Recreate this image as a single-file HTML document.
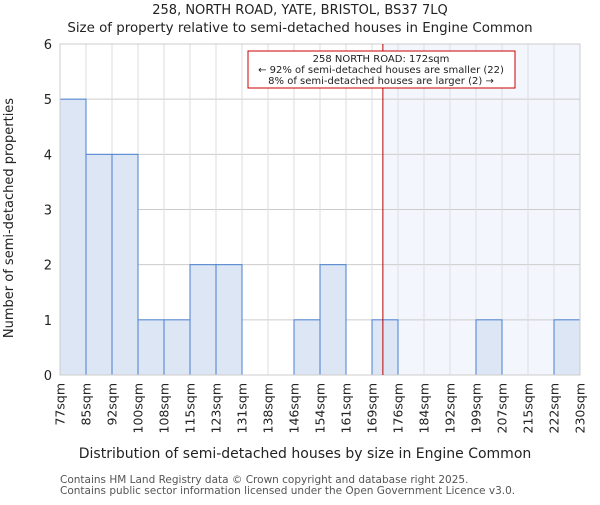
<!DOCTYPE html>
<html><head><meta charset="utf-8"><style>
body{margin:0;background:#fff}
svg text{font-family:"DejaVu Sans","Liberation Sans",sans-serif;fill:#222}
</style></head><body>
<svg id="c" width="600" height="500" xmlns="http://www.w3.org/2000/svg">
<text x="300" y="14" text-anchor="middle" font-size="13">258, NORTH ROAD, YATE, BRISTOL, BS37 7LQ</text>
<text x="300" y="32" text-anchor="middle" font-size="13.4">Size of property relative to semi-detached houses in Engine Common</text>
<g id="plot"></g>
<text x="305" y="458" text-anchor="middle" font-size="14">Distribution of semi-detached houses by size in Engine Common</text>
<text transform="translate(13,218) rotate(-90)" text-anchor="middle" font-size="13">Number of semi-detached properties</text>
<text x="60" y="483" font-size="10.5" style="fill:#555">Contains HM Land Registry data © Crown copyright and database right 2025.</text>
<text x="60" y="494" font-size="10.5" style="fill:#555">Contains public sector information licensed under the Open Government Licence v3.0.</text>
</svg>
<script>
const categories=["77sqm","85sqm","92sqm","100sqm","108sqm","115sqm","123sqm","131sqm","138sqm","146sqm","154sqm","161sqm","169sqm","176sqm","184sqm","192sqm","199sqm","207sqm","215sqm","222sqm","230sqm"];
const counts=[5,4,4,1,1,2,2,0,0,1,2,0,1,0,0,0,1,0,0,1];
const yTicks=[0,1,2,3,4,5,6];
const markerValue=172;
const binStart=77, binEnd=230;
const L=60,R=580,T=44,B=375,yMax=6;
const NS="http://www.w3.org/2000/svg";
const g=document.getElementById('plot');
const n=counts.length, bw=(R-L)/n;
const xi=i=>L+i*bw;
const yv=v=>B-(v/yMax)*(B-T);
const xval=v=>L+(v-binStart)/(binEnd-binStart)*(R-L);
function mk(t,a){const e=document.createElementNS(NS,t);for(const k in a)e.setAttribute(k,a[k]);g.appendChild(e);return e;}
const mx=xval(markerValue);
let e=mk('rect',{x:mx,y:T,width:R-mx,height:B-T,fill:'#f3f6fd'});


yTicks.forEach(t=>{const l=mk('line',{x1:L,x2:R,y1:yv(t),y2:yv(t),stroke:'#ccc','stroke-width':1});


const tx=mk('text',{x:L-8,y:yv(t)+5,'text-anchor':'end','font-size':13});tx.textContent=t;

});
for(let i=0;i<=n;i++){const l=mk('line',{x1:xi(i),x2:xi(i),y1:T,y2:B,stroke:'#ddd','stroke-width':1});

}
counts.forEach((c,i)=>{if(!c)return;const r=mk('rect',{x:xi(i),y:yv(c),width:bw,height:B-yv(c),fill:'#dce6f4',stroke:'#4a7fd0','stroke-width':1});

});
e=mk('rect',{x:L,y:T,width:R-L,height:B-T,fill:'none',stroke:'#ccc'});


categories.forEach((c,i)=>{const x=xi(i);const t=mk('text',{transform:`translate(${x+4.5},${B+8}) rotate(-90)`,'text-anchor':'end','font-size':12.5});t.textContent=c;

});
e=mk('line',{x1:mx,x2:mx,y1:T,y2:B,stroke:'#b00','stroke-width':1});


e=mk('rect',{x:248,y:51,width:267,height:37,fill:'#fff',stroke:'#c00','stroke-width':1});


[["258 NORTH ROAD: "+markerValue+"sqm",62],["← 92% of semi-detached houses are smaller (22)",73],["8% of semi-detached houses are larger (2) →",84]].forEach(([s,y])=>{const t=mk('text',{x:381,y:y,'text-anchor':'middle','font-size':10});t.textContent=s;

});
</script>
</body></html>
